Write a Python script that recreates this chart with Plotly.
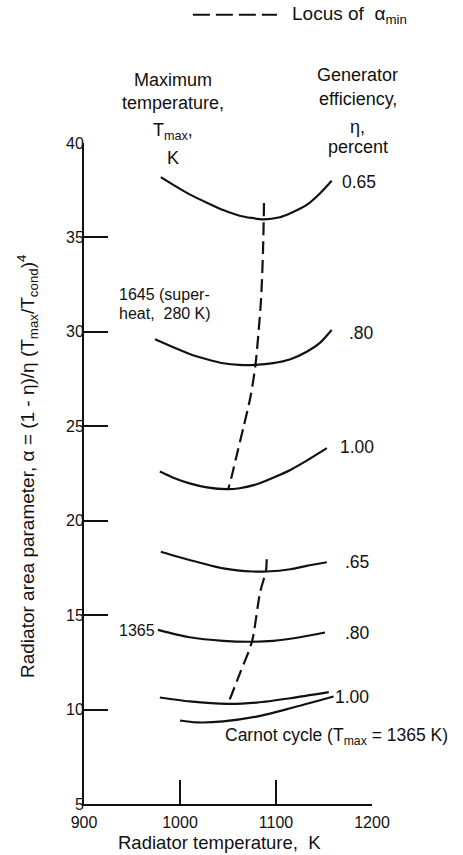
import plotly.graph_objects as go

# Radiator temperature (K) and radiator area parameter for each cycle / efficiency
# Superheated cycle, Tmax = 1645 K (superheat 280 K)
t_1645_065 = [980, 993, 1010, 1028, 1045, 1062, 1087, 1104, 1115, 1132, 1146, 1158]
a_1645_065 = [38.19, 37.78, 37.28, 36.84, 36.45, 36.15, 35.96, 36.07, 36.28, 36.72, 37.34, 38.0]
t_1645_080 = [974, 993, 1010, 1028, 1045, 1062, 1078, 1097, 1115, 1132, 1146, 1158]
a_1645_080 = [29.61, 29.19, 28.83, 28.55, 28.34, 28.25, 28.25, 28.34, 28.55, 28.95, 29.43, 30.1]
t_1645_100 = [979, 993, 1010, 1028, 1049, 1062, 1080, 1097, 1115, 1132, 1153]
a_1645_100 = [22.6, 22.28, 21.98, 21.77, 21.67, 21.72, 21.93, 22.28, 22.69, 23.18, 23.84]

# Saturated cycle, Tmax = 1365 K
t_1365_065 = [980, 1010, 1045, 1076, 1090, 1115, 1132, 1153]
a_1365_065 = [18.36, 17.92, 17.48, 17.31, 17.31, 17.43, 17.61, 17.8]
t_1365_080 = [977, 1010, 1045, 1073, 1097, 1125, 1151]
a_1365_080 = [14.22, 13.83, 13.64, 13.59, 13.64, 13.83, 14.08]
t_1365_100 = [979, 1010, 1050, 1080, 1115, 1155]
a_1365_100 = [10.64, 10.43, 10.3, 10.37, 10.6, 10.92]

# Carnot cycle, Tmax = 1365 K
t_carnot = [1000, 1017, 1045, 1080, 1115, 1160]
a_carnot = [9.42, 9.32, 9.37, 9.63, 10.07, 10.69]

# Locus of minimum alpha
t_locus_1645 = [1087.5, 1086.5, 1084.4, 1078.6, 1073.4, 1066.7, 1059.9, 1054.2, 1050]
a_locus_1645 = [36.82, 34.34, 31.69, 28.25, 26.55, 25.07, 23.64, 22.42, 21.63]
t_locus_1365 = [1090.3, 1089.6, 1083.3, 1075, 1062.5, 1050.3]
a_locus_1365 = [17.96, 17.36, 16.18, 13.6, 11.93, 10.34]

# efficiency labels: (text, radiator temperature, alpha) of the label's left edge
eta_labels = [
    ("0.65", 1166.7, 37.94), (".80", 1174.0, 29.94), ("1.00", 1164.6, 23.9),
    (".65", 1169.8, 17.82), (".80", 1169.8, 14.06), ("1.00", 1159.4, 10.67),
]

x_ticks = [900, 1000, 1100, 1200]
y_ticks = [5, 10, 15, 20, 25, 30, 35, 40]

FONT = "Liberation Sans, Arial, sans-serif"
INK = "#111111"

fig = go.Figure()

solid_curves = [
    (t_1645_065, a_1645_065), (t_1645_080, a_1645_080), (t_1645_100, a_1645_100),
    (t_1365_065, a_1365_065), (t_1365_080, a_1365_080), (t_1365_100, a_1365_100),
    (t_carnot, a_carnot),
]
for tx, ay in solid_curves:
    fig.add_trace(go.Scatter(x=tx, y=ay, mode="lines",
                             line=dict(color=INK, width=2.2, shape="spline", smoothing=0.7),
                             showlegend=False, hoverinfo="skip"))

for tx, ay in [(t_locus_1645, a_locus_1645), (t_locus_1365, a_locus_1365)]:
    fig.add_trace(go.Scatter(x=tx, y=ay, mode="lines",
                             line=dict(color=INK, width=2.2, dash="13px,6px",
                                       shape="spline", smoothing=0.7),
                             showlegend=False, hoverinfo="skip"))

annotations = []

def label(x, y, text, xanchor="left", yanchor="middle", size=18, xref="x", yref="y", angle=0):
    annotations.append(dict(x=x, y=y, xref=xref, yref=yref, text=text, showarrow=False,
                            xanchor=xanchor, yanchor=yanchor, textangle=angle,
                            font=dict(family=FONT, size=size, color=INK)))

for txt, tx, ay in eta_labels:
    label(tx, ay, txt, size=17.5)

# maximum temperature labels
label(934, 32.0, "1645 (super-", size=16)
label(934, 30.95, "heat,  280 K)", size=16)
label(934, 14.17, "1365", size=16)
label(1045, 8.55, "Carnot cycle (T<sub>max</sub> = 1365 K)", size=17.5)

# column headers above the plot area
for txt, yy in [("Maximum", 1.095), ("temperature,", 1.061), ("T<sub>max</sub>,", 1.018), ("K", 0.977)]:
    label(0.309, yy, txt, xanchor="center", xref="paper", yref="paper")
for txt, yy in [("Generator", 1.103), ("efficiency,", 1.067), ("η,", 1.024), ("percent", 0.994)]:
    label(0.951, yy, txt, xanchor="center", xref="paper", yref="paper")

# legend key
label(0.715, 1.194, "Locus of  α<sub>min</sub>", xref="paper", yref="paper", size=19)

# axis titles
label(0.469, -0.059, "Radiator temperature,  K", xanchor="center", xref="paper", yref="paper", size=18.5)
label(-0.194, 0.51, "Radiator area parameter, α = (1 - η)/η (T<sub>max</sub>/T<sub>cond</sub>)<sup>4</sup>",
      xanchor="center", xref="paper", yref="paper", angle=-90, size=19)

fig.update_layout(
    width=463, height=855,
    margin=dict(l=84, r=91, t=143, b=51),
    paper_bgcolor="white", plot_bgcolor="white",
    showlegend=False,
    annotations=annotations,
    shapes=[dict(type="line", xref="paper", yref="paper", x0=0.378, x1=0.670, y0=1.194, y1=1.194,
                 line=dict(color=INK, width=2, dash="17px,6px"))],
    font=dict(family=FONT, size=16, color=INK),
)
fig.update_xaxes(range=[900, 1200], tickvals=x_ticks, ticks="inside", ticklen=24, tickwidth=2,
                 tickcolor=INK, showline=True, linewidth=2, linecolor=INK, showgrid=False,
                 zeroline=False, tickfont=dict(family=FONT, size=16, color=INK),
                 ticklabelstandoff=3)
fig.update_yaxes(range=[5, 40], tickvals=y_ticks, ticks="inside", ticklen=24, tickwidth=2,
                 tickcolor=INK, showline=True, linewidth=2, linecolor=INK, showgrid=False,
                 zeroline=False, tickfont=dict(family=FONT, size=16, color=INK),
                 ticklabelstandoff=-5)

fig.write_html("out.html")
